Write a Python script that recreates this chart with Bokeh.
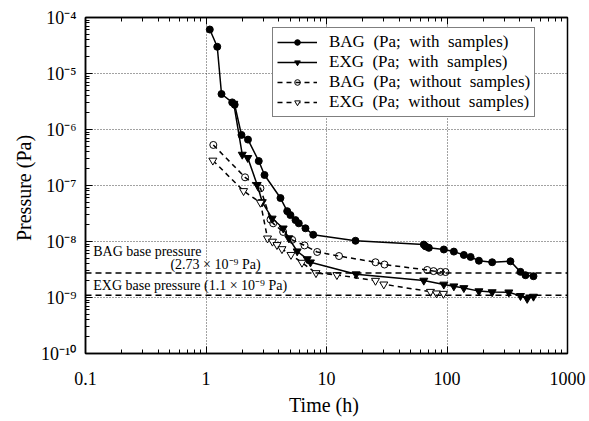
from bokeh.plotting import figure
from bokeh.models import (Legend, LegendItem, FixedTicker, CustomJSTickFormatter,
                          LogAxis, Span, Label)
from bokeh.embed import file_html
from bokeh.resources import INLINE

# ---- data ----
bag_t = [1.075, 1.24, 1.345, 1.65, 1.73, 1.97, 2.23, 2.74, 3.06, 4.15, 4.72, 5.02,
         5.53, 5.89, 6.69, 7.76, 17.4, 64.2, 66.3, 70.7, 94.1, 114, 138, 157, 184,
         237, 336, 407, 448, 522]
bag_p = [6.1e-5, 3.0e-5, 4.3e-6, 3.05e-6, 2.77e-6, 8.0e-7, 6.6e-7, 2.73e-7, 1.54e-7,
         5.97e-8, 3.48e-8, 2.96e-8, 2.41e-8, 2.11e-8, 1.72e-8, 1.32e-8, 1.03e-8,
         8.8e-9, 8.2e-9, 7.7e-9, 7.2e-9, 6.6e-9, 5.75e-9, 5.3e-9, 4.54e-9, 4.26e-9,
         4.43e-9, 2.87e-9, 2.5e-9, 2.4e-9]

exg_t = [1.70, 2.00, 2.22, 2.66, 2.93, 3.54, 4.37, 4.86, 5.71, 6.92, 7.36, 17.6, 64.2,
         94.1, 114, 138, 184, 237, 326, 407, 463, 522]
exg_p = [2.9e-6, 3.57e-7, 3.12e-7, 1.03e-7, 5.07e-8, 2.58e-8, 1.72e-8, 1.15e-8, 6.7e-9,
         4.86e-9, 4.26e-9, 2.61e-9, 2.01e-9, 1.71e-9, 1.59e-9, 1.48e-9, 1.30e-9,
         1.25e-9, 1.24e-9, 1.07e-9, 9.5e-10, 1.04e-9]

bag0_t = [1.15, 2.11, 2.83, 3.43, 3.61, 4.37, 5.19, 6.57, 8.37, 12.7, 25.5, 30.3,
          68.5, 77.3, 88.3, 97.2]
bag0_p = [5.3e-7, 1.4e-7, 8.9e-8, 2.47e-8, 2.11e-8, 1.48e-8, 1.07e-8, 8.5e-9, 6.5e-9,
          5.5e-9, 4.26e-9, 3.88e-9, 3.1e-9, 2.96e-9, 2.87e-9, 2.85e-9]

exg0_t = [1.14, 2.05, 2.83, 3.24, 3.56, 3.88, 4.27, 5.07, 6.26, 8.18, 12.2, 25.5, 29.9,
          72.9, 81.8, 93.5]
exg0_p = [2.8e-7, 8.0e-8, 4.95e-8, 1.14e-8, 1.0e-8, 8.7e-9, 7.35e-9, 5.8e-9, 4.2e-9,
          2.74e-9, 2.53e-9, 2.0e-9, 1.72e-9, 1.27e-9, 1.19e-9, 1.17e-9]

bag_base = 2.73e-9
exg_base = 1.1e-9

x_ticks = [0.1, 1, 10, 100, 1000]
y_ticks = [1e-10, 1e-9, 1e-8, 1e-7, 1e-6, 1e-5, 1e-4]
legend_labels = ["BAG  (Pa;  with  samples)", "EXG  (Pa;  with  samples)",
                 "BAG  (Pa;  without  samples)", "EXG  (Pa;  without  samples)"]

FONT = "Liberation Serif"

x_minor = [m * 10.0 ** e for e in range(-1, 3) for m in range(2, 10)]
y_minor = [m * 10.0 ** e for e in range(-10, -4) for m in range(2, 10)]

p = figure(width=587, height=420, x_axis_type="log", y_axis_type="log",
           x_range=(0.1, 1000), y_range=(1e-10, 1e-4),
           output_backend="svg", toolbar_location=None,
           min_border_left=85, min_border_right=20, min_border_top=17,
           min_border_bottom=67)
p.background_fill_color = "white"
p.border_fill_color = "white"
p.outline_line_color = "black"
p.outline_line_width = 1.5

# axes
p.xaxis.ticker = FixedTicker(ticks=x_ticks, minor_ticks=x_minor)
p.yaxis.ticker = FixedTicker(ticks=y_ticks, minor_ticks=y_minor)
p.xaxis.formatter = CustomJSTickFormatter(
    code="return tick >= 1 ? tick.toFixed(0) : tick.toString();")
p.yaxis.formatter = CustomJSTickFormatter(code="""
const sup = {"-":"\u207b","0":"\u2070","1":"\u00b9","2":"\u00b2","3":"\u00b3",
 "4":"\u2074","5":"\u2075","6":"\u2076","7":"\u2077","8":"\u2078","9":"\u2079"};
const e = Math.round(Math.log10(tick));
return "10" + String(e).split("").map(c => sup[c]).join("");
""")
for ax in (p.xaxis, p.yaxis):
    ax.major_tick_in = 7
    ax.major_tick_out = 0
    ax.minor_tick_in = 4
    ax.minor_tick_out = 0
    ax.axis_line_color = "black"
    ax.axis_line_width = 1.5
    ax.major_label_text_font = FONT
    ax.major_label_text_font_size = "18px"
    ax.major_label_text_color = "black"
    ax.axis_label_text_font = FONT
    ax.axis_label_text_font_size = "20px"
    ax.axis_label_text_font_style = "normal"
    ax.axis_label_text_color = "black"
p.xaxis.axis_label = "Time  (h)"
p.yaxis.axis_label = "Pressure  (Pa)"
p.xaxis.major_label_standoff = 18
p.yaxis.major_label_standoff = 9
p.xaxis.axis_label_standoff = 6
p.yaxis.axis_label_standoff = 3

top = LogAxis(ticker=FixedTicker(ticks=x_ticks, minor_ticks=x_minor),
              formatter=CustomJSTickFormatter(code="return '';"),
              major_tick_in=7, major_tick_out=0, minor_tick_in=4, minor_tick_out=0,
              axis_line_color="black", axis_line_width=1.5,
              major_label_text_font_size="1px")
p.add_layout(top, "above")

p.grid.grid_line_color = "#444444"
p.grid.grid_line_dash = "1 2"
p.grid.grid_line_width = 1
p.xgrid.ticker = FixedTicker(ticks=x_ticks)
p.ygrid.ticker = FixedTicker(ticks=y_ticks)

# base pressure lines
for val in (bag_base, exg_base):
    p.add_layout(Span(location=val, dimension="width", line_color="black",
                      line_width=1.5, line_dash="6 4"))

lab_kw = dict(text_font=FONT, text_font_size="14px", text_color="black",
              text_baseline="middle")
p.add_layout(Label(x=0.116, y=6.6e-9, text="BAG  base  pressure", **lab_kw))
p.add_layout(Label(x=0.507, y=3.9e-9, text="(2.73 \u00d7 10\u207b\u2079  Pa)", **lab_kw))
p.add_layout(Label(x=0.116, y=1.65e-9,
                   text="EXG  base  pressure  (1.1 \u00d7 10\u207b\u2079  Pa)", **lab_kw))

# series
r1l = p.line(bag_t, bag_p, line_color="black", line_width=1.5)
r1m = p.scatter(bag_t, bag_p, marker="circle", size=7, color="black")
r2l = p.line(exg_t, exg_p, line_color="black", line_width=1.5)
r2m = p.scatter(exg_t, exg_p, marker="inverted_triangle", size=8, color="black")
r3l = p.line(bag0_t, bag0_p, line_color="black", line_width=1.5, line_dash="5 4")
r3m = p.scatter(bag0_t, bag0_p, marker="circle", size=7, line_color="black",
                fill_color="white", fill_alpha=0.0, line_width=1)
r4l = p.line(exg0_t, exg0_p, line_color="black", line_width=1.5, line_dash="5 4")
r4m = p.scatter(exg0_t, exg0_p, marker="inverted_triangle", size=8, line_color="black",
                fill_color="white", line_width=1)

legend = Legend(items=[
    LegendItem(label=legend_labels[0], renderers=[r1l, r1m]),
    LegendItem(label=legend_labels[1], renderers=[r2l, r2m]),
    LegendItem(label=legend_labels[2], renderers=[r3l, r3m]),
    LegendItem(label=legend_labels[3], renderers=[r4l, r4m]),
], location=(187, 236))
legend.border_line_color = "black"
legend.border_line_width = 1.5
legend.background_fill_color = "white"
legend.background_fill_alpha = 1.0
legend.label_text_font = FONT
legend.label_text_font_size = "17px"
legend.label_text_color = "black"
legend.glyph_width = 40
legend.glyph_height = 14
legend.label_height = 14
legend.spacing = 0
legend.padding = 4
legend.margin = 0
legend.label_standoff = 12
p.add_layout(legend)

open("out.html", "w").write(file_html(p, INLINE))
